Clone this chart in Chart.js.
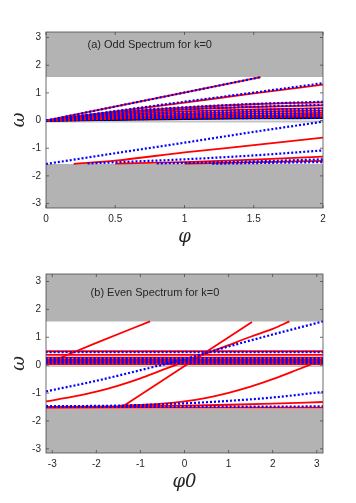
<!DOCTYPE html>
<html>
<head>
<meta charset="utf-8">
<script src="https://cdn.jsdelivr.net/npm/chart.js@4"></script>
<style>
  body { margin: 0; background: #fff; }
  .panel { position: relative; width: 356px; }
</style>
</head>
<body>
<div class="panel" style="height:250px"><canvas id="odd"></canvas></div>
<div class="panel" style="height:253px"><canvas id="even"></canvas></div>
<script>
// band edges (grey = continuum) and the thin grey strip at zero
const gapEdges = [-1.57, 1.57];
const zeroStrip = [0, -0.07];

// (a) odd spectrum for k=0, most curves sampled at oddPhi
const oddPhi = [0, 0.5, 1, 1.5, 2];
const oddSteepPhi = [0, 1.55];
const oddSteep = [0, 1.57];
const oddFanRed = [
  [0, 0.33, 0.65, 0.98, 1.3],
  [0, 0.3, 0.47, 0.59, 0.66],
  [0, 0.25, 0.4, 0.49, 0.55],
  [0, 0.21, 0.33, 0.4, 0.45],
  [0, 0.17, 0.26, 0.32, 0.36],
  [0, 0.13, 0.2, 0.25, 0.28],
  [0, 0.1, 0.15, 0.18, 0.21],
  [0, 0.06, 0.1, 0.12, 0.14]
];
const oddFanBlue = [
  [0, 0.34, 0.68, 1.01, 1.35],
  [0, 0.31, 0.48, 0.6, 0.68],
  [0, 0.26, 0.41, 0.5, 0.57],
  [0, 0.2, 0.31, 0.38, 0.43],
  [0, 0.16, 0.24, 0.3, 0.34],
  [0, 0.12, 0.18, 0.23, 0.26],
  [0, 0.08, 0.13, 0.16, 0.18],
  [0, 0.04, 0.07, 0.09, 0.1]
];
const oddFanBlack = [
  [0, 0.05, 0.09, 0.12, 0.15],
  [0, 0.04, 0.08, 0.1, 0.12],
  [0, 0.03, 0.06, 0.08, 0.09]
];
const oddLowBlue1 = [-1.57, -1.18, -0.8, -0.41, -0.04];
const oddLowRed1Phi = [0.2, 0.5, 1, 1.5, 2];
const oddLowRed1 = [-1.57, -1.45, -1.15, -0.89, -0.62];
const oddLowBlue2Phi = [0.3, 1, 1.5, 2];
const oddLowBlue2 = [-1.55, -1.4, -1.26, -1.08];
const oddLowRed2Phi = [0.5, 1, 1.5, 2];
const oddLowRed2 = [-1.56, -1.5, -1.41, -1.3];
const oddLowBlue3Phi = [0.8, 1.4, 2];
const oddLowBlue3 = [-1.55, -1.49, -1.4];
const oddLowRed3Phi = [1, 2];
const oddLowRed3 = [-1.56, -1.46];
const oddLowBlue4Phi = [1.2, 2];
const oddLowBlue4 = [-1.56, -1.5];

// (b) even spectrum for k=0
const evenEnds = [-3.15, 3.15];
const evenFlatRed = [0.5, 0.37, 0.27, 0.21, 0.15, 0.09, 0.04];
const evenFlatBlue = [0.47, 0.25, 0.19, 0.13, 0.07];
const evenRedAPhi = [-3.14, -2, -0.78];
const evenRedA = [0.05, 0.8, 1.57];
const evenSteepPhi = [-1.42, 1.53];
const evenSteep = [-1.5, 1.55];
const evenRedBPhi = [-3.14, -2.5, -2, -1.5, -1, -0.5, 0, 0.5, 1, 1.5, 2, 2.38];
const evenRedB = [-1.3, -1.12, -0.95, -0.73, -0.47, -0.17, 0.12, 0.42, 0.72, 1.02, 1.3, 1.57];
const evenBlueAPhi = [-3.14, -2, -1, 0, 1, 2, 3.14];
const evenBlueA = [-0.94, -0.56, -0.18, 0.22, 0.67, 1.1, 1.57];
const evenRedCPhi = [-1.5, -0.5, 0, 0.5, 1, 1.5, 2, 2.5, 3.14];
const evenRedC = [-1.46, -1.38, -1.3, -1.17, -0.99, -0.77, -0.5, -0.2, 0.2];
const evenBlueBPhi = [-3.14, -1.5, 0, 1, 2, 3.14];
const evenBlueB = [-1.47, -1.45, -1.37, -1.28, -1.16, -0.96];
const evenRedDPhi = [-3.14, 0, 1, 2, 3.14];
const evenRedD = [-1.5, -1.45, -1.42, -1.38, -1.32];
const evenBlueC = [-1.5, -1.48];
const evenRedE = [-1.53, -1.52];

const pts = (xs, ys) => xs.map((x, i) => ({x: x, y: ys[i]}));
const flat = (xs, v) => xs.map(x => ({x: x, y: v}));

const red = data => ({data, borderColor: '#ff0000', borderWidth: 1.8, order: 2});
const blue = data => ({data, borderColor: '#0000ff', borderWidth: 2.2, borderDash: [2, 2], order: 1});
const black = data => ({data, borderColor: '#000000', borderWidth: 2, order: 3});
const grey = (data, fill, color) => ({data, fill, backgroundColor: color, borderWidth: 0, order: 10});

function greyBands(xs) {
  return [
    grey(flat(xs, gapEdges[1]), 'end', '#b3b3b3'),
    grey(flat(xs, gapEdges[0]), 'start', '#b3b3b3'),
    grey(flat(xs, zeroStrip[0]), {value: zeroStrip[1]}, '#c4c4c4')
  ];
}

Chart.defaults.font.family = '"Liberation Sans", Arial, sans-serif';
Chart.defaults.color = '#262626';

const panelLabel = {
  id: 'panelLabel',
  afterDatasetsDraw(chart, args, opts) {
    const {ctx, scales: {x, y}} = chart;
    ctx.save();
    ctx.font = '11px "Liberation Sans", Arial, sans-serif';
    ctx.fillStyle = '#262626';
    ctx.textBaseline = 'middle';
    ctx.fillText(opts.text, x.getPixelForValue(opts.x), y.getPixelForValue(opts.y));
    ctx.restore();
  }
};

// axes box with inward ticks, matlab style
const frame = {
  id: 'frame',
  afterDraw(chart) {
    const {ctx, chartArea: a, scales: {x, y}} = chart;
    ctx.save();
    ctx.strokeStyle = '#4a4a4a';
    ctx.lineWidth = 0.8;
    ctx.strokeRect(a.left, a.top, a.right - a.left, a.bottom - a.top);
    ctx.beginPath();
    x.ticks.forEach(t => {
      const px = x.getPixelForValue(t.value);
      ctx.moveTo(px, a.bottom); ctx.lineTo(px, a.bottom - 3);
      ctx.moveTo(px, a.top); ctx.lineTo(px, a.top + 3);
    });
    y.ticks.forEach(t => {
      const py = y.getPixelForValue(t.value);
      ctx.moveTo(a.left, py); ctx.lineTo(a.left + 3, py);
      ctx.moveTo(a.right, py); ctx.lineTo(a.right - 3, py);
    });
    ctx.stroke();
    ctx.restore();
  }
};

const plainTick = v => String(Math.round(v * 100) / 100);

function options(o) {
  return {
    responsive: true,
    maintainAspectRatio: false,
    animation: false,
    layout: {padding: {top: o.top, right: 33, left: 0, bottom: 0}},
    elements: {point: {radius: 0}, line: {cubicInterpolationMode: 'monotone', fill: false}},
    plugins: {legend: {display: false}, tooltip: {enabled: false}, panelLabel: o.label},
    scales: {
      x: {
        type: 'linear', min: o.xMin, max: o.xMax,
        grid: {display: false, drawTicks: false}, border: {display: false},
        ticks: {stepSize: o.xStep, includeBounds: false, padding: 5, font: {size: 10}, maxRotation: 0,
                callback: plainTick},
        title: {display: true, text: o.xTitle, padding: {top: 0, bottom: o.xTitlePad},
                font: {family: '"DejaVu Serif", serif', style: 'italic', size: 18}},
        afterFit: s => { s.height = o.xHeight; }
      },
      y: {
        type: 'linear', min: o.yMin, max: o.yMax,
        grid: {display: false, drawTicks: false}, border: {display: false},
        ticks: {stepSize: 1, includeBounds: false, padding: 5, font: {size: 10}, callback: plainTick},
        title: {display: true, text: 'ω', padding: {top: 9, bottom: 0},
                font: {family: '"DejaVu Serif", serif', style: 'italic', size: 18}},
        afterFit: s => { s.width = 46; }
      }
    }
  };
}

const oddSets = [
  ...greyBands([0, 2]),
  red(pts(oddSteepPhi, oddSteep)), blue(pts(oddSteepPhi, oddSteep)),
  ...oddFanBlack.map(v => black(pts(oddPhi, v))),
  ...oddFanRed.map(v => red(pts(oddPhi, v))),
  ...oddFanBlue.map(v => blue(pts(oddPhi, v))),
  blue(pts(oddPhi, oddLowBlue1)),
  red(pts(oddLowRed1Phi, oddLowRed1)),
  blue(pts(oddLowBlue2Phi, oddLowBlue2)),
  red(pts(oddLowRed2Phi, oddLowRed2)),
  blue(pts(oddLowBlue3Phi, oddLowBlue3)),
  red(pts(oddLowRed3Phi, oddLowRed3)),
  blue(pts(oddLowBlue4Phi, oddLowBlue4))
];

new Chart(document.getElementById('odd'), {
  type: 'line',
  data: {datasets: oddSets},
  options: options({
    top: 32, xHeight: 42, xMin: 0, xMax: 2, xStep: 0.5, yMin: -3.16, yMax: 3.2,
    xTitle: 'φ', xTitlePad: 1.5,
    label: {text: '(a) Odd Spectrum for k=0', x: 0.3, y: 2.73}
  }),
  plugins: [panelLabel, frame]
});

const evenSets = [
  ...greyBands([-Math.PI, Math.PI]),
  ...evenFlatRed.map(v => red(flat(evenEnds, v))),
  ...evenFlatBlue.map(v => blue(flat(evenEnds, v))),
  red(pts(evenRedAPhi, evenRedA)),
  red(pts(evenSteepPhi, evenSteep)),
  red(pts(evenRedBPhi, evenRedB)),
  blue(pts(evenBlueAPhi, evenBlueA)),
  red(pts(evenRedCPhi, evenRedC)),
  blue(pts(evenBlueBPhi, evenBlueB)),
  red(pts(evenRedDPhi, evenRedD)),
  red(pts(evenEnds, evenRedE)),
  blue(pts(evenEnds, evenBlueC))
];

new Chart(document.getElementById('even'), {
  type: 'line',
  data: {datasets: evenSets},
  options: options({
    top: 24, xHeight: 50, xMin: -Math.PI, xMax: Math.PI, xStep: 1, yMin: -3.15, yMax: 3.27,
    xTitle: 'φ0', xTitlePad: 9.5,
    label: {text: '(b) Even Spectrum for k=0', x: -2.13, y: 2.58}
  }),
  plugins: [panelLabel, frame]
});
</script>
</body>
</html>
